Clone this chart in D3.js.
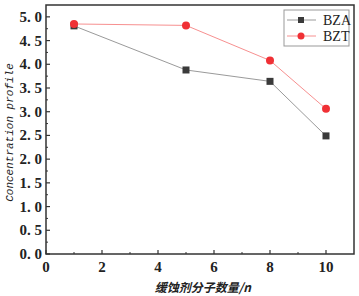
<!DOCTYPE html>
<html><head><meta charset="utf-8">
<script src="https://cdn.jsdelivr.net/npm/d3@7"></script>
<style>body{margin:0;background:#fff}</style>
</head><body><svg id="c" width="359" height="296"></svg>
<script>
const xValues = [1, 5, 8, 10];
const bzaValues = [4.81, 3.88, 3.64, 2.49];
const bztValues = [4.85, 4.82, 4.08, 3.06];
const seriesNames = ["BZA", "BZT"];
const xTicks = [0, 2, 4, 6, 8, 10];
const yTicks = [0, 0.5, 1, 1.5, 2, 2.5, 3, 3.5, 4, 4.5, 5];

const svg = d3.select("#c");
const L = 46, R = 354, T = 5, B = 254;
const x = d3.scaleLinear().domain([0, 11]).range([L, R]);
const y = d3.scaleLinear().domain([0, 5.25]).range([B, T]);
const serif = "'Liberation Serif','DejaVu Serif',serif";

// frame
svg.append("rect").attr("x", L).attr("y", T).attr("width", R - L).attr("height", B - T)
  .attr("fill", "none").attr("stroke", "#333").attr("stroke-width", 1.5);

// x axis ticks (inward)
const xMinor = d3.range(1, 11, 2);
svg.append("g").selectAll("line").data(xTicks).join("line")
  .attr("x1", d => x(d)).attr("x2", d => x(d)).attr("y1", B).attr("y2", B - 4)
  .attr("stroke", "#333").attr("stroke-width", 1.2);
svg.append("g").selectAll("line").data(xMinor).join("line")
  .attr("x1", d => x(d)).attr("x2", d => x(d)).attr("y1", B).attr("y2", B - 2)
  .attr("stroke", "#333").attr("stroke-width", 1);
svg.append("g").selectAll("text").data(xTicks).join("text")
  .attr("x", d => x(d)).attr("y", B + 18).attr("text-anchor", "middle")
  .attr("font-family", serif).attr("font-weight", "bold").attr("font-size", 15).attr("fill", "#222")
  .text(d => d);

// y axis ticks (inward)
const yMinor = d3.range(0.25, 5.25, 0.5);
svg.append("g").selectAll("line").data(yTicks).join("line")
  .attr("x1", L).attr("x2", L + 4).attr("y1", d => y(d)).attr("y2", d => y(d))
  .attr("stroke", "#333").attr("stroke-width", 1.2);
svg.append("g").selectAll("line").data(yMinor).join("line")
  .attr("x1", L).attr("x2", L + 2).attr("y1", d => y(d)).attr("y2", d => y(d))
  .attr("stroke", "#333").attr("stroke-width", 1);
svg.append("g").selectAll("text").data(yTicks).join("text")
  .attr("x", L - 4).attr("y", d => y(d) + 5).attr("text-anchor", "end")
  .attr("font-family", serif).attr("font-weight", "bold").attr("font-size", 15).attr("fill", "#222")
  .text(d => d3.format(".1f")(d).replace(".", ". "));

// axis titles
svg.append("text").attr("transform", `translate(13,${(T + B) / 2 + 3}) rotate(-90)`)
  .attr("text-anchor", "middle").attr("font-family", "'Liberation Mono','DejaVu Sans Mono',monospace")
  .attr("font-style", "italic").attr("font-size", 11).attr("fill", "#222")
  .text("Concentration profile");
svg.append("text").attr("x", x(5.6)).attr("y", 292).attr("text-anchor", "middle")
  .attr("font-family", "'Noto Sans CJK SC',sans-serif").attr("font-style", "italic").attr("font-weight", "bold")
  .attr("font-size", 12).attr("fill", "#222")
  .text("缓蚀剂分子数量/n");

// series
const line = d3.line().x(d => x(d[0])).y(d => y(d[1]));
const bza = xValues.map((v, i) => [v, bzaValues[i]]);
const bzt = xValues.map((v, i) => [v, bztValues[i]]);
svg.append("path").datum(bza).attr("d", line).attr("fill", "none").attr("stroke", "#9a9a9a").attr("stroke-width", 1);
svg.append("path").datum(bzt).attr("d", line).attr("fill", "none").attr("stroke", "#f79090").attr("stroke-width", 1);
svg.append("g").selectAll("rect").data(bza).join("rect")
  .attr("x", d => x(d[0]) - 3.5).attr("y", d => y(d[1]) - 3.5).attr("width", 7).attr("height", 7)
  .attr("fill", "#3a3a3a");
svg.append("g").selectAll("circle").data(bzt).join("circle")
  .attr("cx", d => x(d[0])).attr("cy", d => y(d[1])).attr("r", 4)
  .attr("fill", "#f03035");

// legend
const lg = svg.append("g");
lg.append("rect").attr("x", 284).attr("y", 10).attr("width", 65).attr("height", 36)
  .attr("fill", "#fff").attr("stroke", "#999").attr("stroke-width", 1);
const lColors = [["#9a9a9a", "#3a3a3a"], ["#f79090", "#f03035"]];
seriesNames.forEach((n, i) => {
  const yy = 20 + i * 16;
  lg.append("line").attr("x1", 287).attr("x2", 316).attr("y1", yy).attr("y2", yy).attr("stroke", lColors[i][0]);
  if (i === 0) lg.append("rect").attr("x", 298).attr("y", yy - 3).attr("width", 6).attr("height", 6).attr("fill", lColors[i][1]);
  else lg.append("circle").attr("cx", 301).attr("cy", yy).attr("r", 3.5).attr("fill", lColors[i][1]);
  lg.append("text").attr("x", 323).attr("y", yy + 5).attr("font-family", serif).attr("font-size", 14)
    .attr("fill", "#222").text(n);
});
</script></body></html>
